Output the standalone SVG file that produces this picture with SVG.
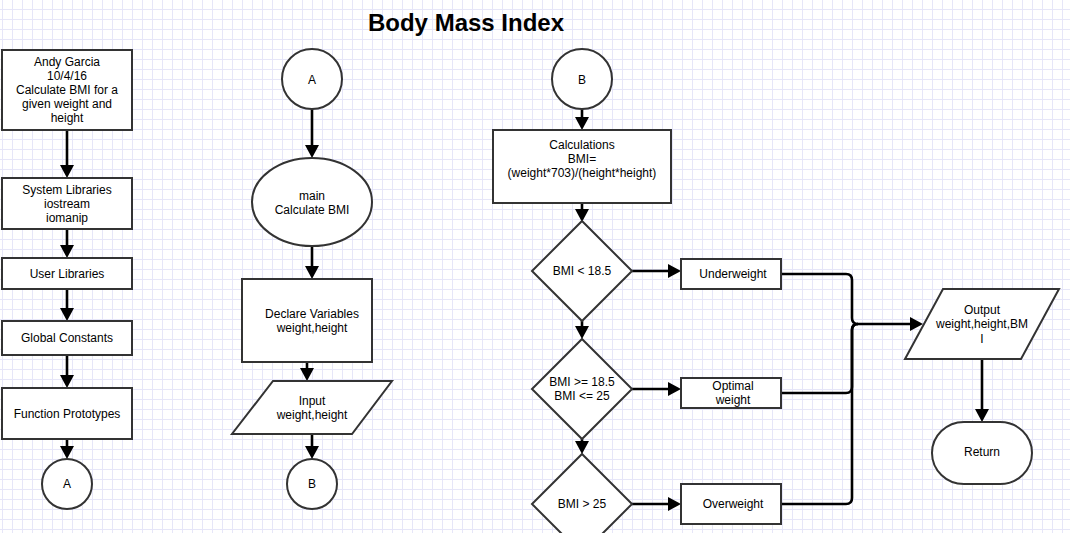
<svg xmlns="http://www.w3.org/2000/svg" width="1070" height="533" viewBox="0 0 1070 533">
<defs>
<pattern id="grid" x="2" y="9" width="10" height="10" patternUnits="userSpaceOnUse">
<path d="M0 0.5H10M0.5 0V10" fill="none" stroke="#e6e6f8" stroke-width="1"/>
</pattern>
<marker id="ah" markerUnits="userSpaceOnUse" markerWidth="13" markerHeight="14" viewBox="0 -7 13 14" refX="0" refY="0" orient="auto" overflow="visible">
<path d="M0,-7 L13,0 L0,7 Z" fill="#000"/>
</marker>
</defs>
<style>
.s{fill:#fff;stroke:#333;stroke-width:2}
.t{font-family:"Liberation Sans",Arial,sans-serif;font-size:12px;fill:#000;text-anchor:middle}
.c{fill:none;stroke:#000;stroke-width:2.6}
.a{marker-end:url(#ah)}
.title{font-family:"Liberation Sans",Arial,sans-serif;font-size:24px;font-weight:bold;fill:#000;text-anchor:middle}
</style>
<rect width="1070" height="533" fill="#fff"/>
<rect width="1070" height="533" fill="url(#grid)"/>
<text class="title" x="466" y="31">Body Mass Index</text>

<g id="connectors">
<path class="c a" d="M67,130V165"/>
<path class="c a" d="M67,229V245"/>
<path class="c a" d="M67,289V308"/>
<path class="c a" d="M67,355V375"/>
<path class="c a" d="M67,439V446"/>
<path class="c a" d="M312,109V145"/>
<path class="c a" d="M312,246V266"/>
<path class="c a" d="M307,362V368"/>
<path class="c a" d="M312,434V446"/>
<path class="c a" d="M582,109V117"/>
<path class="c a" d="M582,203V209"/>
<path class="c a" d="M582,321V326"/>
<path class="c a" d="M582,439V441"/>
<path class="c a" d="M632,271H668"/>
<path class="c a" d="M632,389H668"/>
<path class="c a" d="M632,504H668"/>
<path class="c" d="M781,393H846Q852,393 852,387V330Q852,324 858,324"/>
<path class="c" d="M781,504H846Q852,504 852,498V330Q852,324 858,324"/>
<path class="c a" d="M781,274H846Q852,274 852,280V318Q852,324 858,324H910"/>
<path class="c a" d="M982,359V409"/>
</g>

<g id="header">
<rect class="s" x="2" y="50" width="130" height="80"/>
<text class="t" x="67" y="66">Andy Garcia</text>
<text class="t" x="67" y="80">10/4/16</text>
<text class="t" x="67" y="94">Calculate BMI for a</text>
<text class="t" x="67" y="108">given weight and</text>
<text class="t" x="67" y="122">height</text>
</g>
<g id="syslibs">
<rect class="s" x="2" y="178" width="130" height="51"/>
<text class="t" x="67" y="193.5">System Libraries</text>
<text class="t" x="67" y="207.5">iostream</text>
<text class="t" x="67" y="221.5">iomanip</text>
</g>
<g id="userlibs">
<rect class="s" x="2" y="258" width="130" height="31"/>
<text class="t" x="67" y="277.5">User Libraries</text>
</g>
<g id="globals">
<rect class="s" x="2" y="321" width="130" height="34"/>
<text class="t" x="67" y="341.5">Global Constants</text>
</g>
<g id="prototypes">
<rect class="s" x="2" y="388" width="130" height="51"/>
<text class="t" x="67" y="418">Function Prototypes</text>
</g>
<g id="connA1">
<circle class="s" cx="67" cy="484" r="25"/>
<text class="t" x="67" y="488">A</text>
</g>

<g id="connA2">
<circle class="s" cx="312" cy="79" r="30"/>
<text class="t" x="312" y="83.5">A</text>
</g>
<g id="main">
<ellipse class="s" cx="312" cy="202" rx="60" ry="44"/>
<text class="t" x="312" y="200">main</text>
<text class="t" x="312" y="214">Calculate BMI</text>
</g>
<g id="declare">
<rect class="s" x="242" y="279" width="130" height="83"/>
<text class="t" x="312" y="318">Declare Variables</text>
<text class="t" x="312" y="332">weight,height</text>
</g>
<g id="input">
<polygon class="s" points="273,381 392,381 352,434 232,434"/>
<text class="t" x="312" y="405">Input</text>
<text class="t" x="312" y="419">weight,height</text>
</g>
<g id="connB1">
<circle class="s" cx="312" cy="484" r="25"/>
<text class="t" x="312" y="488">B</text>
</g>

<g id="connB2">
<circle class="s" cx="582" cy="79" r="30"/>
<text class="t" x="582" y="83.5">B</text>
</g>
<g id="calc">
<rect class="s" x="493" y="130" width="178" height="73"/>
<text class="t" x="582" y="149">Calculations</text>
<text class="t" x="582" y="163">BMI=</text>
<text class="t" x="582" y="177">(weight*703)/(height*height)</text>
</g>
<g id="dec1">
<polygon class="s" points="582,221 632,271 582,321 532,271"/>
<text class="t" x="582" y="275">BMI &lt; 18.5</text>
</g>
<g id="dec2">
<polygon class="s" points="582,339 632,389 582,439 532,389"/>
<text class="t" x="582" y="386">BMI &gt;= 18.5</text>
<text class="t" x="582" y="400">BMI &lt;= 25</text>
</g>
<g id="dec3">
<polygon class="s" points="582,454 632,504 582,554 532,504"/>
<text class="t" x="582" y="508">BMI &gt; 25</text>
</g>
<g id="under">
<rect class="s" x="681" y="259" width="100" height="30"/>
<text class="t" x="733" y="278">Underweight</text>
</g>
<g id="optimal">
<rect class="s" x="681" y="378" width="100" height="30"/>
<text class="t" x="733" y="390">Optimal</text>
<text class="t" x="733" y="403.5">weight</text>
</g>
<g id="over">
<rect class="s" x="681" y="484" width="100" height="40"/>
<text class="t" x="733" y="508">Overweight</text>
</g>
<g id="output">
<polygon class="s" points="943,289 1059,289 1021,359 905,359"/>
<text class="t" x="982" y="314">Output</text>
<text class="t" x="982" y="328">weight,height,BM</text>
<text class="t" x="982" y="343">I</text>
</g>
<g id="return">
<rect class="s" x="932" y="422" width="100" height="62" rx="32" ry="31"/>
<text class="t" x="982" y="456">Return</text>
</g>
</svg>
